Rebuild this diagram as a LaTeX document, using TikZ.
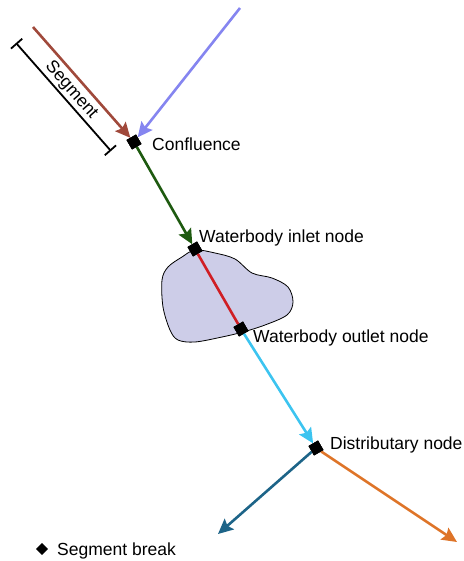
\documentclass[tikz,border=0pt]{standalone}
\usepackage{fontspec}
\setmainfont{Liberation Sans}
\usetikzlibrary{arrows.meta, positioning}
\definecolor{riverbrown}{HTML}{A0493B}
\definecolor{riverlilac}{HTML}{8585F0}
\definecolor{rivergreen}{HTML}{1E5A10}
\definecolor{riverred}{HTML}{D01E24}
\definecolor{rivercyan}{HTML}{3CC4F0}
\definecolor{riverteal}{HTML}{1D6488}
\definecolor{riverorange}{HTML}{DE7428}
\definecolor{lakefill}{HTML}{CDCDE8}

\begin{document}
\begin{tikzpicture}[x=1pt, y=-1pt,
		every node/.style={font=\fontsize{17.5}{21}\selectfont},
		brk/.style={draw=black, fill=black, inner sep=0pt, minimum size=10.5pt, rotate=30, font=\tiny},
		river/.style={line width=2.6pt, -{Stealth[length=15pt, width=14pt, inset=2.5pt]}},
		reach/.style={line width=2.6pt},
		lbl/.style={anchor=west, inner sep=0pt}]
	\useasboundingbox (0,0) rectangle (463,561);

	\draw[fill=lakefill, line width=0.8pt] plot[smooth cycle, tension=0.55] coordinates {
		(195,250) (215,253) (235,259) (252,273) (272,278) (288,287) (293,302) (287,315)
		(265,325) (243,332) (222,337) (195,342) (178,340) (170,330) (163,307)
		(162,280) (168,267) (182,257)};

	\node[brk] (conf) at (134,142) {};
	\node[brk] (inlet) at (195,249) {};
	\node[brk] (outlet) at (241,329) {};
	\node[brk] (distr) at (316,448) {};

	\coordinate (src1) at (33,27);
	\coordinate (src2) at (240,8);
	\coordinate (out1) at (218,534);
	\coordinate (out2) at (457,542);

	\draw[river, riverbrown] (src1) -- (conf);
	\draw[river, riverlilac] (src2) -- (conf);
	\draw[river, rivergreen] (conf) -- (inlet);
	\draw[reach, riverred] (inlet) -- (outlet);
	\draw[river, rivercyan] (outlet) -- (distr);
	\draw[river, riverteal] (distr) -- (out1);
	\draw[river, riverorange] (distr) -- (out2);

	\node[brk] at (conf) {};
	\node[brk] at (inlet) {};
	\node[brk] at (outlet) {};
	\node[brk] at (distr) {};

	\coordinate (seg1) at (16,43);
	\coordinate (seg2) at (111,151);
	\draw[line width=1.8pt, {Bar[width=15pt]}-{Bar[width=15pt]}] (seg1) -- (seg2)
		node[midway, above, sloped, inner sep=1.5pt] (seglabel) {Segment};

	\node[lbl] (conflabel) at (152,144) {Confluence};
	\node[lbl] (inletlabel) at (199,237.5) {Waterbody inlet node};
	\node[lbl] (outletlabel) at (253,337.5) {Waterbody outlet node};
	\node[lbl] (distrlabel) at (330,444.5) {Distributary node};

	\node[brk, rotate=15, minimum size=8pt] (legbrk) at (42,549) {};
	\node[lbl] (leglabel) at (57,551) {Segment break};

\end{tikzpicture}
\end{document}
